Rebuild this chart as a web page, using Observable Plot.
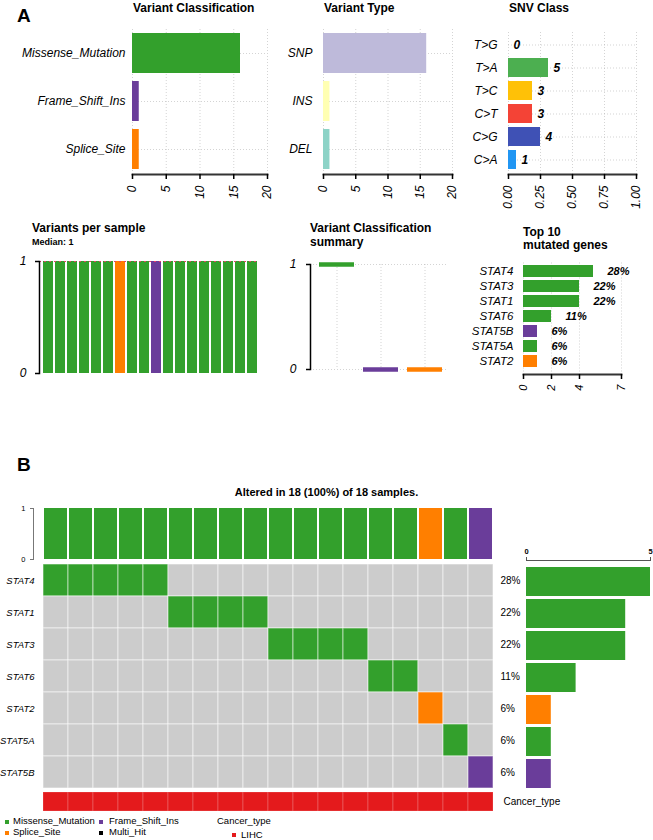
<!DOCTYPE html>
<html><head><meta charset="utf-8">
<script src="https://cdn.jsdelivr.net/npm/d3@7"></script>
<script src="https://cdn.jsdelivr.net/npm/@observablehq/plot@0.6"></script>
<style>
body{margin:0;background:#fff;}
#root{position:relative;width:653px;height:840px;overflow:hidden;font-family:"Liberation Sans",Arial,Helvetica,sans-serif;color:#000;}
.t{position:absolute;line-height:1;white-space:nowrap;}
.b{font-weight:bold;}
.sq{position:absolute;width:4px;height:4px;}
</style></head><body><div id="root"></div>
<script>
// ---------- data ----------
const vcClasses = ["Missense_Mutation", "Frame_Shift_Ins", "Splice_Site"];
const vcCounts = [16, 1, 1];
const vcColors = ["#33A02C", "#6A3D9A", "#FF7F00"];

const vtTypes = ["SNP", "INS", "DEL"];
const vtCounts = [16, 1, 1];
const vtColors = ["#BEBADA", "#FFFFB3", "#8DD3C7"];

const snvClasses = ["T>G", "T>A", "T>C", "C>T", "C>G", "C>A"];
const snvCounts = [0, 5, 3, 3, 4, 1];
const snvFractions = [0, 0.3125, 0.1875, 0.1875, 0.25, 0.0625];
const snvColors = ["#795548", "#4CAF50", "#FFC107", "#F44336", "#3F51B5", "#2196F3"];

const vpsSamples = ["a1","a2","a3","a4","a5","a6","a7","a8","a9","a10","a11","a12","a13","a14","a15","a16","a17","a18"];
const vpsClass = ["Missense_Mutation","Missense_Mutation","Missense_Mutation","Missense_Mutation","Missense_Mutation","Missense_Mutation","Splice_Site","Missense_Mutation","Missense_Mutation","Frame_Shift_Ins","Missense_Mutation","Missense_Mutation","Missense_Mutation","Missense_Mutation","Missense_Mutation","Missense_Mutation","Missense_Mutation","Missense_Mutation"];
const vpsCount = [1,1,1,1,1,1,1,1,1,1,1,1,1,1,1,1,1,1];
const vpsMedian = [1];

const summaryMedian = [1, 0, 0];

const topGenes = ["STAT4", "STAT3", "STAT1", "STAT6", "STAT5B", "STAT5A", "STAT2"];
const topCounts = [5, 4, 4, 2, 1, 1, 1];
const topPct = ["28%", "22%", "22%", "11%", "6%", "6%", "6%"];
const topClass = ["Missense_Mutation","Missense_Mutation","Missense_Mutation","Missense_Mutation","Frame_Shift_Ins","Missense_Mutation","Splice_Site"];

const oncoGenes = ["STAT4", "STAT1", "STAT3", "STAT6", "STAT2", "STAT5A", "STAT5B"];
const oncoCounts = [5, 4, 4, 2, 1, 1, 1];
const oncoPct = ["28%", "22%", "22%", "11%", "6%", "6%", "6%"];
const oncoClass = ["Missense_Mutation","Missense_Mutation","Missense_Mutation","Missense_Mutation","Splice_Site","Missense_Mutation","Frame_Shift_Ins"];

const samples = ["s1","s2","s3","s4","s5","s6","s7","s8","s9","s10","s11","s12","s13","s14","s15","s16","s17","s18"];
const sampleGene = ["STAT4","STAT4","STAT4","STAT4","STAT4","STAT1","STAT1","STAT1","STAT1","STAT3","STAT3","STAT3","STAT3","STAT6","STAT6","STAT2","STAT5A","STAT5B"];
const sampleClass = ["Missense_Mutation","Missense_Mutation","Missense_Mutation","Missense_Mutation","Missense_Mutation","Missense_Mutation","Missense_Mutation","Missense_Mutation","Missense_Mutation","Missense_Mutation","Missense_Mutation","Missense_Mutation","Missense_Mutation","Missense_Mutation","Missense_Mutation","Splice_Site","Missense_Mutation","Frame_Shift_Ins"];
const sampleTotal = [1,1,1,1,1,1,1,1,1,1,1,1,1,1,1,1,1,1];
const sampleCancer = ["LIHC","LIHC","LIHC","LIHC","LIHC","LIHC","LIHC","LIHC","LIHC","LIHC","LIHC","LIHC","LIHC","LIHC","LIHC","LIHC","LIHC","LIHC"];

const countTicks = [0, 5, 10, 15, 20];
const fracTicks = [0, 0.25, 0.5, 0.75, 1];
const topTicks = [0, 2, 4, 7];
const binTicks = [0, 1];
const oncoBarTicks = [0, 5];

// ---------- layout helpers ----------
const W = 653, H = 840;
const FONT = '"Liberation Sans", Arial, Helvetica, sans-serif';
const root = document.getElementById("root");
const intFmt = d => String(d);
function box(x0, x1, y0, y1) {
  return {width: W, height: H, marginLeft: x0, marginRight: W - x1, marginTop: y0, marginBottom: H - y1};
}
function add(opts) {
  const svg = Plot.plot({...opts, style: {position: "absolute", left: "0px", top: "0px", overflow: "visible", fontFamily: FONT, background: "transparent", color: "#000"}});
  root.append(svg);
}
function txt(html, left, top, size, cls = "", extra = "") {
  const d = document.createElement("div");
  d.className = "t " + cls;
  d.style.cssText = `left:${left}px;top:${top}px;font-size:${size}px;${extra}`;
  d.innerHTML = html;
  root.append(d);
}
const classColor = {domain: vcClasses, range: vcColors};
const grid = {stroke: "#aaa", strokeOpacity: 0.5, strokeDasharray: "1,2"};
const axisLine = {stroke: "#333", strokeWidth: 1.8};

// ---------- Panel A, row 1 ----------
const vcData = vcClasses.map((c, i) => ({c, n: vcCounts[i]}));
add({...box(132, 267, 29, 174),
  x: {domain: [0, 20]},
  y: {domain: vcClasses, paddingInner: 0.167, paddingOuter: 0.083, insetBottom: 1},
  color: classColor,
  marks: [
    Plot.gridX({ticks: countTicks, ...grid}),
    Plot.gridY({...grid}),
    Plot.barX(vcData, {x: "n", y: "c", fill: "c"}),
    Plot.frame({anchor: "bottom", ...axisLine}),
    Plot.axisX({ticks: countTicks, tickFormat: intFmt, tickRotate: -90, tickSize: 5, tickPadding: 6, strokeWidth: 1.5, fontSize: 12, fontStyle: "italic", label: null}),
    Plot.axisY({tickSize: 0, tickPadding: 7, fontSize: 12, fontStyle: "italic", label: null})
  ]});

const vtData = vtTypes.map((c, i) => ({c, n: vtCounts[i]}));
add({...box(323, 452, 29, 174),
  x: {domain: [0, 20]},
  y: {domain: vtTypes, paddingInner: 0.167, paddingOuter: 0.083, insetBottom: 1},
  color: {domain: vtTypes, range: vtColors},
  marks: [
    Plot.gridX({ticks: countTicks, ...grid}),
    Plot.gridY({...grid}),
    Plot.barX(vtData, {x: "n", y: "c", fill: "c"}),
    Plot.frame({anchor: "bottom", ...axisLine}),
    Plot.axisX({ticks: countTicks, tickFormat: intFmt, tickRotate: -90, tickSize: 5, tickPadding: 6, strokeWidth: 1.5, fontSize: 12, fontStyle: "italic", label: null}),
    Plot.axisY({tickSize: 0, tickPadding: 11, fontSize: 12, fontStyle: "italic", label: null})
  ]});

const snvData = snvClasses.map((c, i) => ({c, f: snvFractions[i], n: snvCounts[i]}));
add({...box(508, 636, 32, 174),
  x: {domain: [0, 1]},
  y: {domain: snvClasses, paddingInner: 0.18, paddingOuter: 0.09, insetBottom: 3},
  color: {domain: snvClasses, range: snvColors},
  marks: [
    Plot.gridX({ticks: fracTicks, ...grid}),
    Plot.gridY({...grid}),
    Plot.barX(snvData, {x: "f", y: "c", fill: "c"}),
    Plot.text(snvData, {x: "f", y: "c", text: "n", dx: 5, textAnchor: "start", fontSize: 12, fontWeight: "bold", fontStyle: "italic"}),
    Plot.frame({anchor: "bottom", ...axisLine}),
    Plot.axisX({ticks: fracTicks, tickFormat: d3.format(".2f"), tickRotate: -90, tickSize: 5, tickPadding: 6, strokeWidth: 1.5, fontSize: 12, fontStyle: "italic", label: null}),
    Plot.axisY({tickSize: 0, tickPadding: 11, fontSize: 12, fontStyle: "italic", label: null})
  ]});

// ---------- Panel A, row 2 ----------
const vpsData = vpsSamples.map((s, i) => ({s, n: vpsCount[i], c: vpsClass[i]}));
add({...box(39, 258, 261, 373),
  x: {domain: vpsSamples, paddingInner: 0.17, paddingOuter: 0, insetLeft: 2, axis: null},
  y: {domain: [0, 1]},
  color: classColor,
  marks: [
    Plot.barY(vpsData, {x: "s", y: "n", fill: "c"}),
    Plot.ruleY(vpsMedian, {stroke: "#E8406A", strokeWidth: 1.2, strokeDasharray: "2,3"}),
    Plot.frame({anchor: "left", stroke: "#000", strokeWidth: 1.5}),
    Plot.axisY({ticks: binTicks, tickFormat: intFmt, tickSize: 4, tickPadding: 9, strokeWidth: 1.5, fontSize: 12, fontStyle: "italic", label: null})
  ]});

const sumData = vcClasses.map((c, i) => ({c, v: summaryMedian[i]}));
add({...box(310, 447, 264, 369),
  x: {domain: vcClasses, paddingInner: 0.2, paddingOuter: 0.1, insetLeft: 5, axis: null},
  y: {domain: [0, 1]},
  color: classColor,
  marks: [
    Plot.gridX({...grid}),
    Plot.ruleY(binTicks, {...grid}),
    Plot.tickY(sumData, {x: "c", y: "v", stroke: "c", strokeWidth: 4.5}),
    Plot.frame({anchor: "left", stroke: "#000", strokeWidth: 1.5}),
    Plot.axisY({ticks: binTicks, tickFormat: intFmt, tickSize: 4, tickPadding: 10, strokeWidth: 1.5, fontSize: 12, fontStyle: "italic", label: null})
  ]});

const topData = topGenes.map((g, i) => ({g, n: topCounts[i], p: topPct[i], c: topClass[i]}));
add({...box(523, 621, 262.5, 374),
  x: {domain: [0, 7]},
  y: {domain: topGenes, paddingInner: 0.23, paddingOuter: 0.1, insetBottom: 4.5},
  color: classColor,
  marks: [
    Plot.gridX({ticks: topTicks, ...grid}),
    Plot.barX(topData, {x: "n", y: "g", fill: "c"}),
    Plot.text(topData, {x: "n", y: "g", text: "p", dx: 14, textAnchor: "start", fontSize: 11, fontWeight: "bold", fontStyle: "italic"}),
    Plot.frame({anchor: "bottom", ...axisLine}),
    Plot.axisX({ticks: topTicks, tickFormat: intFmt, tickRotate: -90, tickSize: 5, tickPadding: 5, strokeWidth: 1.5, fontSize: 11, fontStyle: "italic", label: null}),
    Plot.axisY({tickSize: 0, tickPadding: 10, fontSize: 11.5, fontStyle: "italic", label: null})
  ]});

// ---------- Panel B ----------
const sampleData = samples.map((s, i) => ({s, n: sampleTotal[i], c: sampleClass[i], g: sampleGene[i], ct: sampleCancer[i]}));
add({...box(33, 498, 508, 559),
  x: {domain: samples, paddingInner: 0.1, paddingOuter: 0.03, insetLeft: 4, axis: null},
  y: {domain: [0, 1]},
  color: classColor,
  marks: [
    Plot.barY(sampleData, {x: "s", y: "n", fill: "c"}),
    Plot.frame({anchor: "left", stroke: "#777", strokeWidth: 1}),
    Plot.axisY({ticks: binTicks, tickFormat: intFmt, tickSize: 3, tickPadding: 5, stroke: "#777", fontSize: 7.5, label: null})
  ]});

const cells = [];
for (const g of oncoGenes) for (const d of sampleData) cells.push({g, s: d.s, c: d.g === g ? d.c : "none"});
const oncoData = oncoGenes.map((g, i) => ({g, n: oncoCounts[i], p: oncoPct[i], c: oncoClass[i]}));
add({...box(37, 498, 564, 788),
  x: {domain: samples, padding: 0, axis: null},
  y: {domain: oncoGenes, padding: 0},
  color: {domain: [...vcClasses, "none"], range: [...vcColors, "#CCCCCC"]},
  marks: [
    Plot.cell(cells, {x: "s", y: "g", fill: "c", stroke: "#fff", strokeWidth: 1, strokeOpacity: 0.55, inset: 0}),
    Plot.axisY({tickSize: 0, tickPadding: 3, fontSize: 9.5, fontStyle: "italic", label: null}),
    Plot.text(oncoData, {y: "g", text: "p", frameAnchor: "right", textAnchor: "start", dx: 2, fontSize: 10})
  ]});

add({...box(37, 498, 792, 811),
  x: {domain: samples, padding: 0, axis: null},
  y: {domain: ["Cancer_type"], padding: 0, axis: null},
  color: {domain: ["LIHC"], range: ["#E41A1C"]},
  marks: [
    Plot.cell(sampleData, {x: "s", y: () => "Cancer_type", fill: "ct", stroke: "#fff", strokeWidth: 1, strokeOpacity: 0.2, inset: 0}),
    Plot.text(["Cancer_type"], {frameAnchor: "right", text: d => d, textAnchor: "start", dx: 5, fontSize: 10})
  ]});

add({...box(526, 650, 560, 788),
  x: {domain: [0, 5]},
  y: {domain: oncoGenes, paddingInner: 0.1, paddingOuter: 0, insetTop: 6.5, axis: null},
  color: classColor,
  marks: [
    Plot.barX(oncoData, {x: "n", y: "g", fill: "c"}),
    Plot.frame({anchor: "top", stroke: "#555", strokeWidth: 1}),
    Plot.axisX({anchor: "top", ticks: oncoBarTicks, tickFormat: intFmt, tickSize: 4, tickPadding: 3, stroke: "#555", fontSize: 7.5, fontWeight: "bold", label: null})
  ]});

// ---------- titles ----------
txt("A", 17, 5.5, 19, "b");
txt("Variant Classification", 133, 1.5, 12, "b");
txt("Variant Type", 324, 1.5, 12, "b");
txt("SNV Class", 509, 1.5, 12, "b");
txt("Variants per sample", 32, 221.5, 12, "b");
txt("Median: 1", 32, 238, 9, "b");
txt("Variant Classification<br>summary", 310, 220.5, 12, "b", "line-height:14px;");
txt("Top 10<br>mutated genes", 523, 225.8, 12, "b", "line-height:13.5px;");
txt("B", 17, 454.5, 19, "b");
txt("Altered in 18 (100%) of 18 samples.", 0, 486.5, 11, "b", "width:653px;text-align:center;");

// ---------- legend ----------
function sq(color, left, top) {
  const d = document.createElement("div");
  d.className = "sq";
  d.style.cssText = `left:${left}px;top:${top}px;background:${color};`;
  root.append(d);
}
sq(vcColors[0], 5, 820); txt("Missense_Mutation", 13, 816, 9.5);
sq(vcColors[1], 99, 820); txt("Frame_Shift_Ins", 109, 816, 9.5);
sq(vcColors[2], 5, 831); txt("Splice_Site", 13, 827, 9.5);
sq("#000", 99, 831); txt("Multi_Hit", 109, 827, 9.5);
txt("Cancer_type", 217, 816, 9.5);
sq("#E41A1C", 232, 833); txt("LIHC", 241, 830, 9.5);
</script></body></html>
